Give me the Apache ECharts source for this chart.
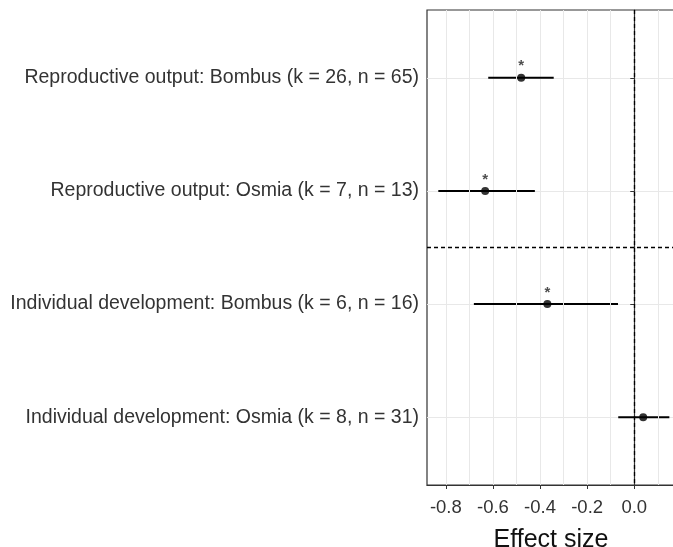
<!DOCTYPE html>
<html>
<head>
<meta charset="utf-8">
<script src="https://cdn.jsdelivr.net/npm/echarts@6/dist/echarts.min.js"></script>
<style>
html, body { margin: 0; padding: 0; background: #fff; overflow: hidden; }
#main { width: 673px; height: 547px; }
</style>
</head>
<body>
<div id="main"></div>
<script>
'use strict';
var categories = [
		'Reproductive output: Bombus (k = 26, n = 65)',
		'Reproductive output: Osmia (k = 7, n = 13)',
		'Individual development: Bombus (k = 6, n = 16)',
		'Individual development: Osmia (k = 8, n = 31)'
	],
	estimates = [-0.48, -0.633, -0.369, 0.038],
	ciLow = [-0.62, -0.832, -0.681, -0.068],
	ciHigh = [-0.342, -0.422, -0.069, 0.149],
	significant = ['*', '*', '*', ''],
	xTicks = [-0.8, -0.6, -0.4, -0.2, 0.0],
	xMinorGrid = [-0.7, -0.5, -0.3, -0.1, 0.1];

var chart = echarts.init(document.getElementById('main'));

var pointData = [], barData = [];
for (var i = 0; i < categories.length; i++) {
	pointData.push([estimates[i], i + 1, significant[i]]);
	barData.push([ciLow[i], ciHigh[i], i + 1]);
}

var textColor = '#333',
	gridColor = '#e8e8e8',
	font = 'Liberation Sans, Arial, sans-serif';

var option = {
	animation: false,
	grid: {
		left: 427,
		right: -2,
		top: 10,
		bottom: 62,
		outerBoundsMode: 'none',
		show: true,
		borderColor: '#333',
		borderWidth: 1.2
	},
	xAxis: {
		type: 'value',
		min: -0.88,
		max: 0.173,
		name: 'Effect size',
		nameLocation: 'middle',
		nameGap: 43,
		nameTextStyle: { fontSize: 25, color: '#111', fontFamily: font },
		axisLine: { show: true, lineStyle: { color: '#333', width: 1.2 } },
		axisTick: { show: true, length: 4, customValues: xTicks, lineStyle: { color: '#333' } },
		axisLabel: {
			customValues: xTicks,
			margin: 13,
			fontSize: 18.5,
			color: textColor,
			fontFamily: font,
			formatter: function (v) { return v.toFixed(1); }
		},
		splitLine: { show: true, lineStyle: { color: gridColor, width: 1 } }
	},
	yAxis: {
		type: 'value',
		inverse: true,
		min: 0.4,
		max: 4.6,
		axisLine: { show: true, lineStyle: { color: '#333', width: 1.2 } },
		axisTick: { show: true, length: 4, customValues: [1, 2, 3, 4], lineStyle: { color: '#333' } },
		axisLabel: {
			customValues: [1, 2, 3, 4],
			margin: 8,
			fontSize: 19.5,
			color: textColor,
			fontFamily: font,
			formatter: function (v) { return categories[v - 1] || ''; }
		},
		splitLine: { show: true, lineStyle: { color: gridColor, width: 1 } }
	},
	series: [
		{
			// minor grid lines
			type: 'scatter',
			data: [],
			silent: true,
			z: 1,
			markLine: {
				silent: true,
				symbol: 'none',
				label: { show: false },
				lineStyle: { color: gridColor, width: 1, type: 'solid' },
				data: xMinorGrid.map(function (v) { return { xAxis: v }; })
			}
		},
		{
			type: 'custom',
			z: 3,
			data: barData,
			renderItem: function (params, api) {
				var a = api.coord([api.value(0), api.value(2)]),
					b = api.coord([api.value(1), api.value(2)]);
				return {
					type: 'line',
					shape: { x1: a[0], y1: a[1], x2: b[0], y2: b[1] },
					style: { stroke: '#000', lineWidth: 2 }
				};
			}
		},
		{
			type: 'scatter',
			z: 4,
			data: pointData,
			symbol: 'circle',
			symbolSize: 8,
			itemStyle: { color: '#000' },
			label: {
				show: true,
				position: 'top',
				distance: 0,
				fontSize: 15,
				fontWeight: 'bold',
				color: '#222',
				fontFamily: font,
				formatter: function (p) { return p.value[2]; }
			},
			markLine: {
				silent: true,
				symbol: 'none',
				label: { show: false },
				lineStyle: { color: '#000', width: 1.3, type: [4, 3] },
				data: [{ xAxis: 0 }, { yAxis: 2.5 }]
			}
		}
	]
};

chart.setOption(option);
</script>
</body>
</html>
